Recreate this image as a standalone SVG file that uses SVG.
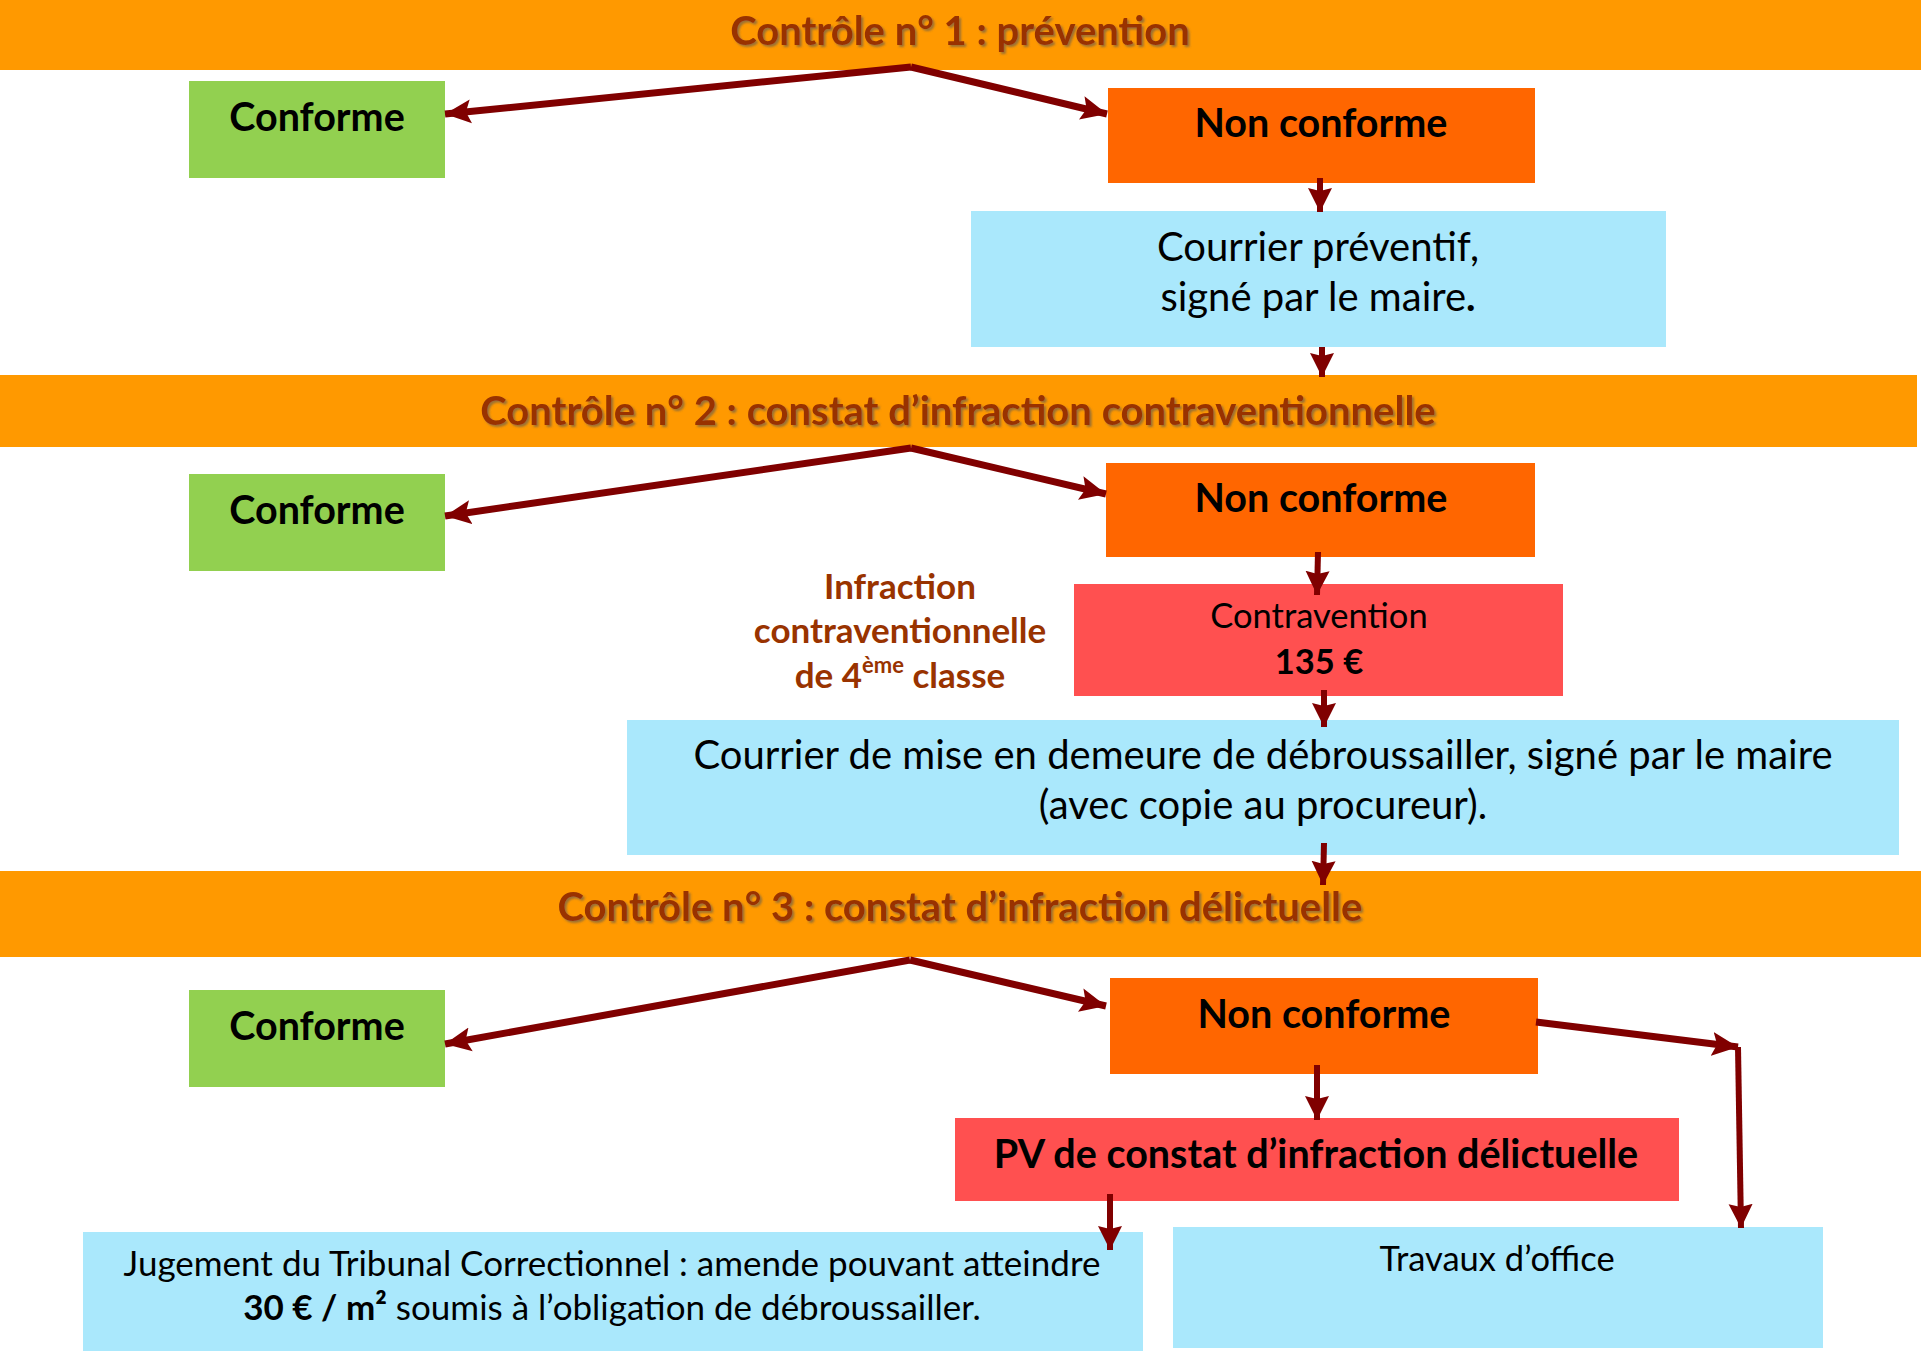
<svg xmlns="http://www.w3.org/2000/svg" width="1921" height="1351" viewBox="0 0 1921 1351">
<defs>
<style>
.band{fill:#FF9900}
.ok{fill:#92D050}
.nc{fill:#FF6600}
.blue{fill:#AAE8FC}
.red{fill:#FF5050}
text{font-family:Lato,"Liberation Sans",sans-serif;text-anchor:middle;fill:#000}
.title{font-size:40px;font-weight:bold;fill:#993300;filter:url(#sh)}
.lbl{font-size:39.5px;font-weight:bold}
.reg{font-size:40px}
.mid{font-size:34.5px}
.jug{font-size:35px}
.inf{font-size:35px;font-weight:bold;fill:#993300}
.b{font-weight:bold}
.thick{stroke:#800000;stroke-width:7;fill:none;marker-end:url(#ah)}
.thin{stroke:#800000;stroke-width:6;fill:none;marker-end:url(#ah2)}
</style>
<filter id="sh" x="-5%" y="-20%" width="110%" height="150%">
<feDropShadow dx="2" dy="2" stdDeviation="1.2" flood-color="#555" flood-opacity="0.6"/>
</filter>
<marker id="ah" markerUnits="userSpaceOnUse" markerWidth="28" markerHeight="26" refX="26" refY="13" orient="auto" viewBox="0 0 28 26">
<path d="M0,1 L26,13 L0,25 L5,13 z" fill="#800000"/>
</marker>
<marker id="ah2" markerUnits="userSpaceOnUse" markerWidth="26" markerHeight="26" refX="24" refY="13" orient="auto" viewBox="0 0 26 26">
<path d="M0,1 L24,13 L0,25 L3,13 z" fill="#800000"/>
</marker>
</defs>

<g id="band1"><rect class="band" x="0" y="0" width="1921" height="70"/><text class="title" x="960" y="45">Contrôle n° 1 : prévention</text></g>
<g id="conforme1"><rect class="ok" x="189" y="81" width="256" height="97"/><text class="lbl" x="317" y="131">Conforme</text></g>
<g id="nonconforme1"><rect class="nc" x="1108" y="88" width="427" height="95"/><text class="lbl" x="1321" y="137">Non conforme</text></g>
<g id="courrier1"><rect class="blue" x="971" y="211" width="695" height="136"/><text class="reg" x="1318" y="261">Courrier préventif,</text><text class="reg" x="1318" y="311">signé par le maire<tspan class="b">.</tspan></text></g>

<g id="band2"><rect class="band" x="0" y="375" width="1917" height="72"/><text class="title" x="958" y="425">Contrôle n° 2 : constat d’infraction contraventionnelle</text></g>
<g id="conforme2"><rect class="ok" x="189" y="474" width="256" height="97"/><text class="lbl" x="317" y="524">Conforme</text></g>
<g id="nonconforme2"><rect class="nc" x="1106" y="463" width="429" height="94"/><text class="lbl" x="1321" y="512">Non conforme</text></g>
<g id="infraction"><text class="inf" x="900" y="599">Infraction</text><text class="inf" x="900" y="643">contraventionnelle</text><text class="inf" x="900" y="688">de 4<tspan font-size="22" dy="-15">ème</tspan><tspan dy="15"> classe</tspan></text></g>
<g id="contravention"><rect class="red" x="1074" y="584" width="489" height="112"/><text class="mid" x="1319" y="628">Contravention</text><text class="mid b" x="1319" y="674">135 €</text></g>
<g id="courrier2"><rect class="blue" x="627" y="720" width="1272" height="135"/><text class="reg" x="1263" y="769">Courrier de mise en demeure de débroussailler, signé par le maire</text><text class="reg" x="1263" y="819">(avec copie au procureur).</text></g>

<g id="band3"><rect class="band" x="0" y="871" width="1921" height="86"/><text class="title" x="960" y="921">Contrôle n° 3 : constat d’infraction délictuelle</text></g>
<g id="conforme3"><rect class="ok" x="189" y="990" width="256" height="97"/><text class="lbl" x="317" y="1040">Conforme</text></g>
<g id="nonconforme3"><rect class="nc" x="1110" y="978" width="428" height="96"/><text class="lbl" x="1324" y="1028">Non conforme</text></g>
<g id="pv"><rect class="red" x="955" y="1118" width="724" height="83"/><text class="lbl" x="1316" y="1168">PV de constat d’infraction délictuelle</text></g>
<g id="jugement"><rect class="blue" x="83" y="1232" width="1060" height="119"/><text class="jug" x="612" y="1276">Jugement du Tribunal Correctionnel : amende pouvant atteindre</text><text class="jug" x="612" y="1320"><tspan class="b">30 € / m²</tspan> soumis à l’obligation de débroussailler.</text></g>
<g id="travaux"><rect class="blue" x="1173" y="1227" width="650" height="121"/><text class="mid" x="1497" y="1271">Travaux d’office</text></g>

<g id="connectors">
<path class="thick" d="M911,67 L445,114"/>
<path class="thick" d="M911,67 L1107,114"/>
<path class="thin" d="M1320,178 L1320,212"/>
<path class="thin" d="M1322,347 L1322,377"/>
<path class="thick" d="M911,448 L445,516"/>
<path class="thick" d="M911,448 L1106,494"/>
<path class="thin" d="M1318,552 L1317,595"/>
<path class="thin" d="M1324,690 L1324,727"/>
<path class="thin" d="M1324,843 L1323,885"/>
<path class="thick" d="M910,960 L445,1044"/>
<path class="thick" d="M910,960 L1106,1006"/>
<path class="thick" d="M1536,1022 L1738,1047"/>
<path class="thin" d="M1738,1047 L1741,1228"/>
<path class="thin" d="M1317,1065 L1317,1120"/>
<path class="thin" d="M1110,1194 L1110,1250"/>
</g>
</svg>
